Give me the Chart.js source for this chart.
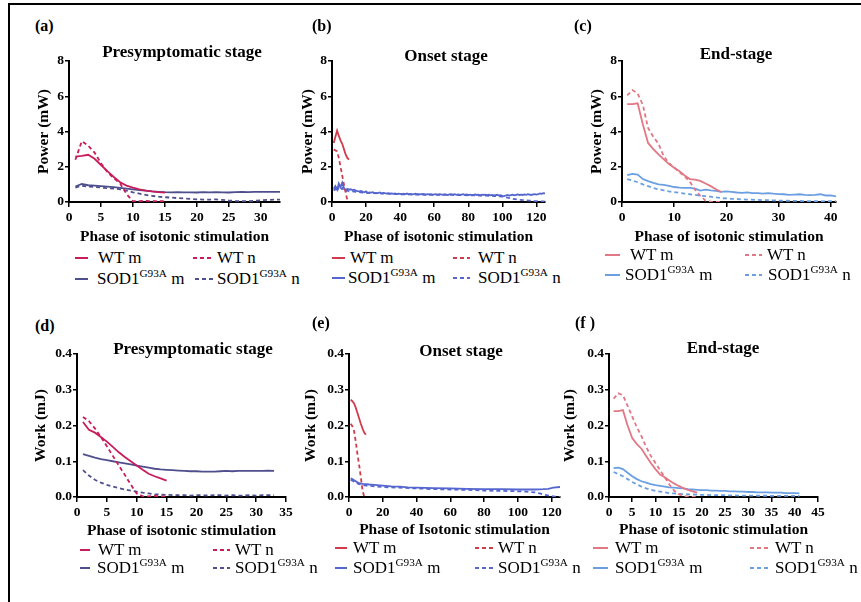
<!DOCTYPE html>
<html><head><meta charset="utf-8">
<script src="https://cdn.jsdelivr.net/npm/chart.js@4/dist/chart.umd.min.js"></script>
<style>
html,body{margin:0;padding:0;background:#fff;}
body{width:861px;height:602px;position:relative;overflow:hidden;font-family:"Liberation Serif","DejaVu Serif",serif;}
#frame{position:absolute;left:8px;top:3px;width:900px;height:700px;border-left:2px solid #000;border-top:2px solid #000;}
.t{position:absolute;white-space:nowrap;line-height:1;color:#000;}
canvas{position:absolute;}
.sw{position:absolute;height:2px;}
sup{font-size:0.66em;vertical-align:0;position:relative;top:-0.6em;}
</style></head><body>
<div id="frame"></div>
<script>
// ---------- text ----------
const panelLabels = ['(a)','(b)','(c)','(d)','(e)','(f )'];
const stageTitles = ['Presymptomatic stage','Onset stage','End-stage','Presymptomatic stage','Onset stage','End-stage'];
const yTitles = ['Power (mW)','Power (mW)','Power (mW)','Work (mJ)','Work (mJ)','Work (mJ)'];
const xTitles = ['Phase of isotonic stimulation','Phase of isotonic stimulation','Phase of isotonic stimulation',
                 'Phase of isotonic stimulation','Phase of Isotonic stimulation','Phase of isotonic stimulation'];
const legendLabels = ['WT m','WT n','SOD1<sup>G93A</sup> m','SOD1<sup>G93A</sup> n'];

// ---------- tick labels ----------
const powerTicks = [0,2,4,6,8];
const workTicks = [0,0.1,0.2,0.3,0.4];
const presPowerTicksX = [0,5,10,15,20,25,30];
const onsetTicksX = [0,20,40,60,80,100,120];
const endPowerTicksX = [0,10,20,30,40];
const presWorkTicksX = [0,5,10,15,20,25,30,35];
const endWorkTicksX = [0,5,10,15,20,25,30,35,40,45];
const xMaxes = [33,125,41,35,125,45];

// ---------- (a) presymptomatic power ----------
const presPowerWTm = [2.58,2.62,2.68,2.45,2.1,1.75,1.42,1.12,0.93,0.82,0.72,0.65,0.6,0.56,0.53];
const presPowerWTn = [2.4,3.45,3.2,2.8,2.2,1.7,1.35,1.05,0.45,0.05,0.05,0.06,0.05,0.05,0.05];
const presPowerSODm = [0.88,1.02,0.95,0.93,0.9,0.87,0.84,0.8,0.76,0.72,0.68,0.64,0.6,0.58,0.56,0.55,0.56,0.55,0.55,0.54,0.56,0.55,0.56,0.55,0.54,0.56,0.57,0.56,0.57,0.57,0.58,0.57,0.57];
const presPowerSODn = [0.82,0.92,0.88,0.85,0.82,0.78,0.76,0.72,0.65,0.55,0.48,0.4,0.35,0.3,0.27,0.25,0.22,0.2,0.18,0.15,0.14,0.13,0.15,0.12,0.08,0.06,0.05,0.05,0.06,0.1,0.12,0.13,0.13];

// ---------- (b) onset power ----------
const onsetPowerWTm = [3.35,3.7,4.05,3.75,3.5,3.3,3.0,2.7,2.5,2.4];
const onsetPowerWTn = [2.97,2.93,2.88,2.5,2.0,1.5,1.0,0.55,0.1];
const onsetPowerSODm = [
0.75,0.9,0.7,1.05,0.85,1.1,0.8,0.65,0.75,0.7,
0.72,0.68,0.7,0.65,0.62,0.6,0.63,0.58,0.55,0.6,
0.52,0.55,0.53,0.56,0.5,0.52,0.5,0.54,0.49,0.51,
0.5,0.48,0.5,0.47,0.49,0.46,0.48,0.45,0.47,0.46,
0.44,0.47,0.45,0.48,0.44,0.46,0.43,0.45,0.47,0.44,
0.45,0.43,0.46,0.44,0.42,0.45,0.43,0.44,0.41,0.43,
0.44,0.42,0.45,0.43,0.41,0.44,0.42,0.4,0.43,0.45,
0.42,0.44,0.41,0.43,0.4,0.42,0.44,0.41,0.43,0.4,
0.42,0.39,0.41,0.43,0.4,0.42,0.38,0.41,0.4,0.42,
0.39,0.41,0.38,0.4,0.37,0.39,0.41,0.36,0.38,0.35,
0.33,0.37,0.4,0.36,0.39,0.42,0.38,0.41,0.43,0.4,
0.42,0.4,0.43,0.41,0.44,0.42,0.4,0.43,0.45,0.42,
0.44,0.48,0.46,0.5,0.49];
const onsetPowerSODnX = [1,2,3,4,5,6,7,8,9,10,12,14,16,18,20,25,30,35,40,45,50,55,60,65,70,75,80,85,90,95,100,103,106,110,113,116,119,122,125];
const onsetPowerSODn = [0.65,0.75,0.6,0.85,0.7,0.8,0.65,0.6,0.65,0.6,0.6,0.58,0.56,0.54,0.52,0.5,0.48,0.46,0.44,0.43,0.42,0.41,0.41,0.4,0.4,0.39,0.38,0.37,0.36,0.34,0.3,0.25,0.18,0.12,0.1,0.08,0.05,0.04,0.03];

// ---------- (c) end-stage power ----------
const endPowerWTm = [5.55,5.55,5.6,4.4,3.35,3.0,2.7,2.42,2.15,1.95,1.75,1.5,1.3,1.27,1.2,1.05,0.9,0.72,0.57];
const endPowerWTn = [6.05,6.35,6.15,5.5,4.2,3.7,3.3,2.6,2.2,1.95,1.7,1.45,1.15,0.7,0.35,0.08,0.02,0.0,0.0];
const endPowerSODm = [1.52,1.6,1.55,1.3,1.18,1.08,1.0,0.97,0.92,0.85,0.82,0.8,0.8,0.76,0.65,0.7,0.66,0.63,0.58,0.6,0.57,0.54,0.52,0.55,0.5,0.5,0.48,0.5,0.47,0.45,0.44,0.4,0.42,0.44,0.4,0.39,0.4,0.44,0.37,0.38,0.32];
const endPowerSODn = [1.3,1.22,1.12,1.0,0.9,0.8,0.72,0.66,0.6,0.56,0.52,0.48,0.44,0.4,0.36,0.33,0.3,0.26,0.22,0.2,0.18,0.17,0.15,0.14,0.13,0.12,0.11,0.1,0.09,0.08,0.07,0.07,0.06,0.06,0.05,0.05,0.05,0.04,0.05,0.05,0.05];

// ---------- (d) presymptomatic work ----------
const presWorkWTm = [0.21,0.188,0.18,0.168,0.155,0.14,0.125,0.112,0.1,0.088,0.076,0.065,0.058,0.052,0.046];
const presWorkWTn = [0.224,0.212,0.192,0.168,0.142,0.115,0.088,0.062,0.035,0.01,0.002,0.002,0.003,0.002,0.002];
const presWorkSODm = [0.12,0.115,0.11,0.106,0.103,0.1,0.097,0.094,0.091,0.088,0.085,0.082,0.079,0.077,0.076,0.075,0.074,0.073,0.072,0.072,0.071,0.071,0.071,0.072,0.073,0.072,0.073,0.073,0.073,0.073,0.073,0.074,0.073];
const presWorkSODn = [0.075,0.06,0.048,0.04,0.034,0.029,0.025,0.021,0.018,0.015,0.012,0.01,0.008,0.007,0.006,0.005,0.005,0.005,0.004,0.005,0.005,0.004,0.005,0.005,0.004,0.005,0.004,0.004,0.005,0.004,0.005,0.005,0.005];

// ---------- (e) onset work ----------
const onsetWorkWTm = [0.272,0.268,0.262,0.25,0.235,0.22,0.205,0.192,0.18,0.174];
const onsetWorkWTn = [0.205,0.198,0.185,0.155,0.12,0.09,0.055,0.02,0.0];
const onsetWorkSODmX = [1,2,3,4,5,6,8,10,12,15,20,25,30,35,40,50,60,70,80,90,100,110,115,118,121,125];
const onsetWorkSODm = [0.052,0.05,0.047,0.044,0.041,0.039,0.037,0.036,0.035,0.034,0.032,0.03,0.029,0.027,0.026,0.025,0.024,0.023,0.022,0.022,0.021,0.021,0.022,0.023,0.026,0.028];
const onsetWorkSODnX = [1,2,3,4,5,6,8,10,15,20,25,30,40,50,60,70,80,90,100,105,110,113,116,119,122,125];
const onsetWorkSODn = [0.048,0.046,0.043,0.04,0.038,0.036,0.034,0.032,0.03,0.028,0.027,0.026,0.024,0.022,0.021,0.02,0.018,0.017,0.016,0.015,0.013,0.01,0.006,0.003,0.001,0.0];

// ---------- (f) end-stage work ----------
const endWorkWTm = [0.24,0.24,0.243,0.2,0.165,0.148,0.135,0.115,0.095,0.078,0.063,0.055,0.046,0.038,0.031,0.025,0.02,0.016,0.012];
const endWorkWTn = [0.275,0.29,0.285,0.255,0.225,0.195,0.17,0.14,0.115,0.095,0.075,0.055,0.035,0.018,0.008,0.003,0.001,0,0];
const endWorkSODm = [0.081,0.082,0.078,0.068,0.058,0.05,0.044,0.04,0.036,0.033,0.031,0.029,0.027,0.026,0.025,0.024,0.022,0.021,0.02,0.019,0.019,0.018,0.018,0.017,0.017,0.016,0.016,0.015,0.015,0.014,0.014,0.013,0.013,0.013,0.012,0.012,0.012,0.011,0.011,0.011,0.01];
const endWorkSODn = [0.07,0.064,0.058,0.05,0.042,0.035,0.029,0.024,0.02,0.017,0.015,0.013,0.011,0.01,0.009,0.008,0.0075,0.007,0.0065,0.006,0.006,0.0055,0.005,0.005,0.005,0.0045,0.0045,0.004,0.004,0.004,0.004,0.0035,0.0035,0.0035,0.003,0.003,0.003,0.003,0.003,0.003,0.003];

// ---------- styling / layout (not data) ----------
const palettes = [
  {wt:'#c81c5c', sod:'#4f4f8e'},
  {wt:'#cf3d4d', sod:'#5566cf'},
  {wt:'#e27885', sod:'#6b9fe2'}
];
const geom = [
  {L:69, T:61, R:280, B:202, ytx:44, xty:237},
  {L:332,T:61, R:545, B:202, ytx:308,xty:237},
  {L:622,T:61, R:836, B:202, ytx:597,xty:237},
  {L:77, T:354,R:286, B:497, ytx:41, xty:531},
  {L:349,T:354,R:560, B:497, ytx:311,xty:530},
  {L:609,T:354,R:818, B:497, ytx:570,xty:530}
];
const labelPos = [[35,31.5],[312,31.5],[574,31.5],[35,331],[312,328.5],[575,328]];
const titlePos = [[182,57.5],[446,61.5],[736,59],[193,354.5],[461,356.5],[723,353.5]];
// legend items: [sampleStart, sampleEnd, textX, baseline]
const legendPos = [
  [[75,88,98,263],[193,213,217,263],[75,88,97,284],[195,213,217,284]],
  [[332,345,350,263],[453,470,478,263],[332,345,348,283],[453,470,478,283]],
  [[605,620,630,260],[745,762,767,260],[605,620,625,280],[745,762,768,280]],
  [[80,90,98,555],[213,230,235,555],[80,90,97,573],[213,230,235,573]],
  [[335,347,353,553],[475,493,498,553],[335,347,353,573],[475,493,498,573]],
  [[593,608,615,553],[750,768,775,553],[593,608,615,573],[750,768,775,573]]
];

const pts = (ys, xs) => ys.map((y,i)=>({x: xs ? xs[i] : i+1, y}));
const series = [
  [pts(presPowerWTm), pts(presPowerWTn), pts(presPowerSODm), pts(presPowerSODn)],
  [pts(onsetPowerWTm), pts(onsetPowerWTn), pts(onsetPowerSODm), pts(onsetPowerSODn, onsetPowerSODnX)],
  [pts(endPowerWTm), pts(endPowerWTn), pts(endPowerSODm), pts(endPowerSODn)],
  [pts(presWorkWTm), pts(presWorkWTn), pts(presWorkSODm), pts(presWorkSODn)],
  [pts(onsetWorkWTm), pts(onsetWorkWTn), pts(onsetWorkSODm, onsetWorkSODmX), pts(onsetWorkSODn, onsetWorkSODnX)],
  [pts(endWorkWTm), pts(endWorkWTn), pts(endWorkSODm), pts(endWorkSODn)]
];
const xTickSets = [presPowerTicksX, onsetTicksX, endPowerTicksX, presWorkTicksX, onsetTicksX, endWorkTicksX];

function txt(html, x, baseline, fs, bold, center) {
  const d = document.createElement('div');
  d.className = 't';
  d.innerHTML = html;
  d.style.fontSize = fs + 'px';
  d.style.fontWeight = bold ? 'bold' : 'normal';
  d.style.top = (baseline - 0.8375 * fs) + 'px';
  d.style.left = x + 'px';
  if (center) d.style.transform = 'translateX(-50%)';
  document.body.appendChild(d);
}
function swatch(x0, x1, y, color, dashed) {
  const d = document.createElement('div');
  d.className = 'sw';
  d.style.left = x0 + 'px';
  d.style.top = (y - 1) + 'px';
  d.style.width = (x1 - x0) + 'px';
  d.style.background = dashed
    ? 'repeating-linear-gradient(90deg,' + color + ' 0 4px, transparent 4px 7px)'
    : color;
  document.body.appendChild(d);
}

const FONT = '"Liberation Serif", "DejaVu Serif", serif';
Chart.defaults.font.family = FONT;

for (let p = 0; p < 6; p++) {
  const g = geom[p];
  const pal = palettes[p % 3];
  const isWork = p >= 3;
  const cx = Math.round(g.ytx - 10.3), cy = g.T - 12;
  const cw = g.R + 16 - cx, ch = Math.round(g.xty + 10.3) - cy;
  const cv = document.createElement('canvas');
  cv.width = cw; cv.height = ch;
  cv.style.left = cx + 'px'; cv.style.top = cy + 'px';
  cv.style.width = cw + 'px'; cv.style.height = ch + 'px';
  document.body.appendChild(cv);
  const yW = g.L - (cx + 1), xH = (cy + ch - 1) - g.B;
  const colors = [pal.wt, pal.wt, pal.sod, pal.sod];
  const datasets = series[p].map((d, i) => ({
    label: legendLabels[i].replace(/<[^>]+>/g, ''),
    data: d,
    borderColor: colors[i],
    borderWidth: 1.8,
    borderDash: (i % 2 === 1) ? [4, 3] : [],
    pointRadius: 0,
    fill: false,
    tension: 0
  }));
  const yTicks = isWork ? workTicks : powerTicks;
  const tickFont = { family: FONT, size: 13.5, weight: 'bold' };
  const titleFont = { family: FONT, size: 15.5, weight: 'bold' };
  new Chart(cv, {
    type: 'line',
    data: { datasets },
    options: {
      responsive: false, animation: false, devicePixelRatio: 1,
      layout: { padding: { left: 1, top: 12, right: 16, bottom: 1 } },
      plugins: { legend: { display: false }, tooltip: { enabled: false } },
      scales: {
        x: {
          type: 'linear', min: 0, max: xMaxes[p],
          afterFit: s => { s.height = xH; },
          afterBuildTicks: s => { s.ticks = xTickSets[p].map(v => ({ value: v })); },
          grid: { drawOnChartArea: false, drawTicks: true, tickLength: 5, color: '#000', lineWidth: 1.5 },
          border: { display: true, color: '#000', width: 2 },
          ticks: { font: tickFont, color: '#000', padding: 2, maxRotation: 0, autoSkip: false,
                   callback: v => String(v) },
          title: { display: true, text: xTitles[p], font: titleFont, color: '#000', padding: 0 }
        },
        y: {
          type: 'linear', min: 0, max: isWork ? 0.4 : 8,
          afterFit: s => { s.width = yW; },
          afterBuildTicks: s => { s.ticks = yTicks.map(v => ({ value: v })); },
          grid: { drawOnChartArea: false, drawTicks: true, tickLength: 4, color: '#000', lineWidth: 1.5 },
          border: { display: true, color: '#000', width: 2 },
          ticks: { font: tickFont, color: '#000', padding: 1, autoSkip: false,
                   callback: v => isWork ? Number(v).toFixed(1) : String(v) },
          title: { display: true, text: yTitles[p], font: titleFont, color: '#000', padding: 0 }
        }
      }
    }
  });

  txt(panelLabels[p], labelPos[p][0], labelPos[p][1], 16, true, false);
  txt(stageTitles[p], titlePos[p][0], titlePos[p][1], 17, true, true);
  legendPos[p].forEach((lp, i) => {
    swatch(lp[0], lp[1], lp[3] - 5.5, colors[i], i % 2 === 1);
    txt(legendLabels[i], lp[2], lp[3], 17, false, false);
  });
}
</script>
</body></html>
